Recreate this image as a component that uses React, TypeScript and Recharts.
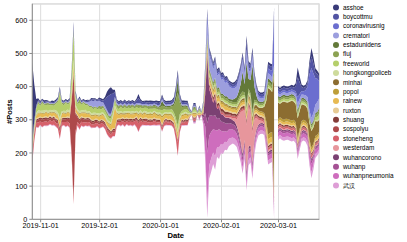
import React from 'react';
import { AreaChart, Area, XAxis, YAxis, CartesianGrid } from 'recharts';

const FONT = '"Liberation Sans", Arial, Helvetica, sans-serif';

// one row per day, first day 2019-10-28, last 2020-03-22 (2020-02-29 missing)
const START = Date.UTC(2019, 9, 28);
const DAY = 86400000;
const TICK_SHIFT = 6 * 3600000; // axis ticks sit at local midnight

const X_TICKS = ['2019-11-01', '2019-12-01', '2020-01-01', '2020-02-01', '2020-03-01'];
const Y_TICKS = [0, 100, 200, 300, 400, 500, 600];
const Y_MAX = 650;

const NAMES = ['asshoe', 'boycottmu', 'coronavirusnig', 'crematori', 'estadunidens', 'fluj', 'freeworld', 'hongkongpoliceb', 'minhai', 'popol', 'rainew', 'ruxton', 'shuang', 'sospolyu', 'stoneheng', 'westerdam', 'wuhancorono', 'wuhanp', 'wuhanpneumonia', '武汉'];
const COLORS = ['#393b79', '#5254a3', '#6b6ecf', '#9c9ede', '#637939', '#8ca252', '#b5cf6b', '#cedb9c', '#8c6d31', '#bd9e39', '#e7ba52', '#e7cb94', '#843c39', '#ad494a', '#d6616b', '#e7969c', '#7b4173', '#a55194', '#ce6dbd', '#de9ed6'];

const asshoe = [
  230, 110, 20, 6, 4, 3, 5, 4, 2, 3,
  4, 3, 5, 4, 5, 3, 2, 4, 3, 5,
  6, 10, 5, 3, 4, 2, 3, 4, 3, 2,
  3, 4, 3, 2, 4, 5, 4, 8, 15, 20,
  20, 12, 6, 4, 3, 5, 4, 3, 5, 4,
  3, 5, 4, 5, 12, 6, 4, 3, 5, 6,
  5, 4, 3, 5, 6, 5, 6, 4, 5, 6,
  5, 4, 6, 8, 10, 6, 5, 4, 5, 6,
  3, 1, 4, 4, 1, 3, 1, 4, 6, 8,
  6, 6, 6, 6, 6, 6, 6, 6, 5, 5,
  5, 5, 5, 6, 6, 6, 8, 8, 6, 15,
  8, 6, 10, 8, 6, 5, 5, 5, 5, 8,
  8, 8, 8, 8, null, 6, 6, 6, 6, 6,
  6, 6, 6, 6, 10, 30, 18, 8, 7, 7,
  8, 15, 25, 20, 12, 10, 10,
];
const boycottmu = [
  10, 8, 4, 3, 4, 2, 3, 4, 3, 2,
  3, 4, 2, 3, 4, 3, 4, 2, 3, 3,
  5, 8, 4, 3, 2, 4, 3, 2, 4, 3,
  4, 5, 3, 4, 5, 6, 5, 20, 40, 55,
  60, 40, 15, 6, 7, 5, 6, 8, 5, 6,
  7, 5, 6, 8, 15, 8, 6, 7, 5, 6,
  6, 7, 5, 6, 8, 6, 8, 6, 7, 5,
  6, 7, 8, 10, 12, 8, 6, 7, 5, 6,
  3, 1, 5, 5, 1, 3, 1, 4, 8, 10,
  8, 8, 8, 8, 8, 8, 8, 8, 8, 8,
  8, 8, 8, 8, 10, 10, 10, 12, 10, 25,
  12, 10, 12, 10, 8, 8, 8, 8, 8, 12,
  12, 12, 12, 12, null, 8, 8, 8, 8, 8,
  8, 8, 8, 8, 15, 60, 35, 12, 10, 10,
  12, 25, 35, 30, 18, 14, 12,
];
const coronavirusnig = [
  0, 0, 0, 0, 0, 0, 0, 0, 0, 0,
  0, 0, 0, 0, 0, 0, 0, 0, 0, 0,
  0, 0, 0, 0, 0, 0, 0, 0, 0, 0,
  0, 0, 0, 0, 0, 0, 0, 0, 0, 0,
  0, 0, 0, 0, 0, 0, 0, 0, 0, 0,
  0, 0, 0, 0, 0, 0, 0, 0, 0, 0,
  0, 0, 0, 0, 0, 0, 0, 0, 0, 0,
  0, 0, 0, 0, 0, 0, 0, 0, 0, 0,
  0, 0, 0, 0, 0, 0, 0, 1, 5, 25,
  10, 8, 8, 8, 6, 6, 6, 6, 6, 6,
  5, 5, 5, 5, 5, 6, 6, 6, 6, 10,
  8, 8, 8, 6, 5, 5, 5, 5, 5, 10,
  15, 15, 20, 155, null, 8, 6, 6, 6, 6,
  6, 6, 6, 6, 8, 20, 15, 10, 10, 15,
  30, 110, 150, 120, 80, 70, 50,
];
const crematori = [
  0, 0, 1, 1, 2, 2, 2, 2, 2, 2,
  2, 2, 2, 2, 3, 2, 2, 2, 2, 2,
  3, 4, 2, 2, 2, 2, 2, 3, 5, 12,
  16, 18, 18, 18, 16, 14, 10, 8, 6, 6,
  6, 5, 5, 5, 4, 4, 4, 4, 4, 4,
  4, 4, 4, 4, 5, 4, 4, 4, 4, 4,
  4, 4, 4, 4, 4, 4, 5, 4, 4, 4,
  4, 4, 4, 5, 6, 4, 4, 4, 4, 4,
  2, 1, 3, 3, 1, 2, 1, 4, 15, 35,
  40, 40, 38, 42, 38, 40, 42, 45, 40, 42,
  38, 35, 32, 32, 32, 35, 35, 32, 28, 30,
  25, 25, 22, 20, 15, 12, 10, 10, 10, 15,
  15, 15, 15, 5, null, 8, 8, 8, 8, 8,
  8, 8, 8, 8, 10, 18, 15, 10, 10, 12,
  15, 18, 20, 22, 25, 30, 30,
];
const estadunidens = [
  0, 0, 1, 1, 1, 1, 1, 1, 1, 1,
  1, 1, 1, 1, 1, 1, 1, 1, 1, 1,
  2, 3, 1, 1, 1, 1, 1, 1, 1, 1,
  1, 1, 1, 1, 2, 2, 2, 2, 2, 2,
  2, 2, 2, 2, 2, 2, 2, 2, 2, 2,
  2, 2, 2, 2, 3, 2, 2, 2, 2, 2,
  3, 3, 3, 3, 3, 4, 15, 6, 4, 4,
  4, 4, 8, 20, 40, 10, 5, 4, 4, 4,
  2, 1, 3, 3, 1, 2, 1, 2, 4, 5,
  5, 5, 5, 5, 5, 5, 5, 5, 5, 6,
  6, 6, 8, 10, 15, 20, 30, 60, 25, 130,
  30, 40, 140, 40, 15, 6, 6, 5, 5, 10,
  10, 10, 10, 10, null, 5, 5, 5, 5, 5,
  5, 5, 5, 5, 5, 8, 6, 5, 5, 5,
  5, 5, 5, 5, 5, 5, 5,
];
const fluj = [
  4, 4, 3, 5, 4, 6, 3, 4, 5, 3,
  4, 5, 3, 5, 6, 4, 5, 3, 4, 5,
  6, 8, 5, 4, 10, 5, 3, 5, 4, 3,
  4, 5, 3, 4, 6, 7, 5, 6, 7, 5,
  6, 7, 5, 6, 8, 5, 6, 7, 5, 6,
  7, 5, 6, 6, 8, 6, 7, 5, 6, 7,
  7, 6, 8, 7, 6, 8, 14, 9, 7, 8,
  8, 9, 20, 50, 100, 35, 12, 9, 7, 8,
  3, 1, 6, 6, 1, 4, 1, 4, 6, 8,
  8, 8, 8, 8, 8, 8, 8, 8, 8, 8,
  7, 7, 7, 7, 8, 8, 10, 12, 8, 10,
  8, 8, 10, 8, 6, 5, 5, 5, 5, 10,
  10, 10, 10, 5, null, 6, 6, 6, 6, 6,
  6, 6, 6, 6, 6, 8, 6, 6, 6, 6,
  6, 6, 6, 6, 8, 10, 12,
];
const freeworld = [
  10, 8, 14, 20, 15, 22, 17, 14, 19, 13,
  16, 12, 20, 30, 75, 22, 16, 24, 15, 22,
  40, 80, 25, 14, 25, 17, 22, 14, 19, 12,
  18, 11, 16, 12, 15, 10, 14, 11, 13, 10,
  12, 9, 14, 11, 8, 13, 10, 12, 8, 11,
  10, 13, 9, 11, 12, 8, 12, 9, 11, 10,
  9, 11, 7, 10, 9, 8, 12, 10, 7, 9,
  8, 10, 10, 12, 15, 10, 7, 9, 8, 9,
  3, 1, 6, 6, 1, 4, 1, 4, 6, 6,
  6, 6, 6, 6, 6, 6, 6, 6, 6, 6,
  5, 5, 5, 5, 6, 6, 6, 6, 6, 6,
  6, 6, 6, 6, 5, 5, 5, 5, 5, 6,
  6, 6, 6, 5, null, 6, 6, 6, 6, 6,
  6, 6, 6, 6, 6, 6, 6, 6, 6, 6,
  6, 6, 6, 6, 8, 10, 14,
];
const hongkongpoliceb = [
  4, 4, 5, 7, 5, 6, 8, 5, 6, 7,
  5, 6, 8, 7, 8, 6, 5, 7, 6, 6,
  10, 15, 8, 6, 7, 5, 6, 7, 5, 6,
  5, 6, 4, 5, 6, 5, 4, 6, 5, 5,
  5, 6, 4, 5, 6, 5, 4, 6, 5, 4,
  5, 6, 4, 5, 5, 6, 4, 5, 6, 5,
  4, 5, 3, 4, 5, 4, 5, 4, 3, 4,
  4, 5, 4, 4, 5, 4, 3, 4, 5, 4,
  2, 1, 3, 3, 1, 2, 1, 2, 3, 3,
  3, 3, 3, 3, 3, 3, 3, 3, 3, 3,
  3, 3, 3, 3, 3, 3, 3, 3, 3, 3,
  3, 3, 3, 3, 3, 3, 3, 3, 3, 3,
  3, 3, 3, 2, null, 3, 3, 3, 3, 3,
  3, 3, 3, 3, 3, 3, 3, 3, 3, 3,
  3, 3, 3, 3, 3, 4, 5,
];
const minhai = [
  0, 0, 1, 1, 1, 1, 1, 1, 1, 1,
  1, 1, 1, 1, 1, 1, 1, 1, 1, 1,
  1, 1, 1, 1, 1, 1, 1, 1, 1, 1,
  1, 1, 1, 1, 1, 1, 1, 1, 1, 1,
  1, 1, 1, 1, 1, 1, 1, 1, 1, 1,
  1, 1, 1, 1, 1, 1, 1, 1, 1, 1,
  1, 1, 1, 1, 1, 1, 1, 1, 1, 1,
  1, 1, 1, 1, 1, 1, 1, 1, 1, 1,
  1, 0, 1, 1, 0, 1, 0, 1, 2, 3,
  3, 3, 3, 3, 3, 3, 3, 3, 3, 3,
  3, 3, 3, 3, 3, 4, 4, 5, 5, 5,
  6, 8, 10, 10, 10, 10, 10, 12, 20, 60,
  140, 130, 120, 345, null, 50, 40, 50, 55, 50,
  50, 55, 60, 55, 55, 60, 55, 50, 45, 45,
  45, 50, 50, 50, 45, 40, 35,
];
const popol = [
  1, 1, 2, 2, 2, 2, 2, 2, 2, 2,
  2, 2, 2, 2, 3, 2, 2, 2, 2, 2,
  3, 4, 2, 2, 2, 2, 2, 2, 2, 2,
  3, 3, 3, 3, 3, 3, 3, 3, 3, 3,
  3, 3, 3, 3, 3, 3, 3, 3, 3, 3,
  3, 3, 3, 3, 3, 3, 3, 3, 3, 3,
  4, 4, 4, 4, 4, 4, 5, 4, 4, 4,
  4, 4, 4, 5, 6, 4, 4, 4, 4, 4,
  2, 1, 3, 3, 1, 2, 1, 3, 8, 10,
  6, 6, 6, 6, 6, 6, 6, 6, 6, 6,
  5, 5, 5, 5, 6, 6, 6, 6, 6, 8,
  6, 6, 8, 6, 5, 5, 5, 5, 5, 12,
  15, 15, 15, 15, null, 8, 8, 8, 8, 8,
  8, 8, 8, 8, 8, 8, 8, 8, 8, 8,
  8, 8, 8, 8, 8, 8, 8,
];
const rainew = [
  6, 6, 8, 12, 9, 11, 8, 12, 10, 7,
  11, 8, 12, 10, 12, 9, 11, 8, 12, 10,
  12, 15, 10, 8, 12, 9, 11, 13, 8, 10,
  9, 12, 10, 8, 11, 10, 13, 9, 10, 12,
  15, 30, 60, 15, 9, 12, 8, 11, 10, 13,
  9, 11, 10, 8, 12, 10, 9, 12, 8, 10,
  11, 9, 12, 10, 8, 10, 20, 12, 9, 11,
  10, 12, 9, 12, 12, 10, 8, 11, 10, 9,
  3, 1, 8, 8, 1, 5, 1, 5, 10, 12,
  10, 10, 10, 10, 10, 10, 10, 10, 10, 10,
  8, 8, 8, 8, 8, 8, 8, 8, 8, 10,
  8, 8, 10, 8, 7, 7, 7, 7, 7, 15,
  15, 15, 15, 8, null, 7, 7, 7, 7, 7,
  7, 7, 7, 7, 7, 7, 7, 7, 7, 7,
  7, 7, 7, 7, 7, 7, 7,
];
const ruxton = [
  2, 2, 3, 3, 3, 3, 3, 3, 3, 3,
  3, 3, 3, 3, 4, 3, 3, 3, 3, 3,
  4, 5, 3, 3, 3, 3, 3, 3, 3, 3,
  3, 3, 3, 3, 3, 3, 3, 3, 3, 3,
  3, 3, 3, 3, 3, 3, 3, 3, 3, 3,
  3, 3, 3, 3, 3, 3, 3, 3, 3, 3,
  3, 3, 3, 3, 3, 3, 3, 3, 3, 3,
  3, 3, 3, 3, 3, 3, 3, 3, 3, 3,
  1, 0, 2, 2, 0, 1, 0, 2, 4, 5,
  5, 5, 5, 5, 5, 5, 5, 5, 5, 5,
  4, 4, 4, 4, 4, 4, 4, 4, 4, 4,
  4, 4, 4, 4, 4, 4, 4, 4, 4, 5,
  5, 5, 5, 4, null, 3, 3, 3, 3, 3,
  3, 3, 3, 3, 3, 3, 3, 3, 3, 3,
  3, 3, 3, 3, 3, 3, 3,
];
const shuang = [
  3, 3, 4, 4, 4, 4, 4, 4, 4, 4,
  4, 4, 4, 4, 5, 4, 4, 4, 4, 4,
  6, 8, 5, 4, 4, 4, 4, 4, 4, 4,
  4, 4, 4, 4, 4, 4, 4, 4, 4, 4,
  4, 4, 4, 4, 4, 4, 4, 4, 4, 4,
  4, 4, 4, 4, 4, 4, 4, 4, 4, 4,
  4, 4, 4, 4, 4, 4, 4, 4, 4, 4,
  4, 4, 4, 4, 4, 4, 4, 4, 4, 4,
  1, 0, 3, 3, 0, 2, 0, 3, 5, 6,
  8, 8, 8, 8, 8, 8, 8, 8, 8, 8,
  6, 6, 6, 6, 6, 6, 6, 6, 6, 6,
  6, 6, 6, 6, 5, 5, 5, 5, 5, 5,
  5, 5, 5, 4, null, 4, 4, 4, 4, 4,
  4, 4, 4, 4, 4, 4, 4, 4, 4, 4,
  4, 4, 4, 4, 4, 4, 4,
];
const sospolyu = [
  4, 4, 6, 8, 8, 8, 8, 8, 8, 7,
  7, 7, 8, 8, 10, 8, 8, 8, 9, 12,
  150, 370, 50, 15, 12, 10, 9, 8, 8, 8,
  7, 7, 7, 6, 6, 6, 6, 6, 6, 6,
  5, 5, 5, 5, 5, 5, 5, 5, 5, 5,
  5, 5, 5, 5, 5, 5, 5, 5, 5, 5,
  4, 4, 4, 4, 4, 3, 3, 3, 3, 3,
  3, 3, 3, 3, 4, 3, 3, 3, 3, 3,
  1, 0, 2, 2, 0, 1, 0, 1, 3, 4,
  3, 3, 3, 3, 3, 3, 3, 3, 3, 3,
  3, 3, 3, 3, 3, 3, 3, 3, 3, 3,
  3, 3, 3, 3, 2, 2, 2, 2, 2, 2,
  2, 2, 2, 3, null, 2, 2, 2, 2, 2,
  2, 2, 2, 2, 2, 2, 2, 2, 2, 2,
  2, 2, 2, 2, 2, 2, 2,
];
const stoneheng = [
  25, 20, 12, 15, 10, 14, 11, 13, 9, 12,
  11, 14, 10, 14, 20, 12, 9, 14, 11, 13,
  15, 18, 12, 10, 14, 11, 13, 9, 12, 10,
  11, 8, 12, 9, 10, 12, 8, 10, 12, 13,
  12, 12, 12, 10, 7, 11, 9, 12, 8, 10,
  9, 11, 8, 20, 25, 18, 8, 10, 11, 7,
  10, 8, 11, 9, 7, 8, 10, 9, 11, 7,
  9, 7, 10, 20, 40, 15, 9, 7, 10, 8,
  2, 1, 6, 6, 1, 4, 1, 4, 6, 5,
  5, 5, 5, 5, 5, 5, 5, 5, 5, 5,
  5, 5, 5, 5, 5, 5, 5, 5, 5, 5,
  5, 5, 5, 5, 5, 5, 5, 5, 5, 5,
  6, 6, 6, 8, null, 5, 5, 5, 5, 5,
  5, 5, 5, 5, 5, 5, 5, 5, 5, 5,
  5, 6, 8, 6, 5, 5, 5,
];
const westerdam = [
  0, 0, 0, 0, 0, 0, 0, 0, 0, 0,
  0, 0, 0, 0, 0, 0, 0, 0, 0, 0,
  0, 0, 0, 0, 0, 0, 0, 0, 0, 0,
  0, 0, 0, 0, 0, 0, 0, 0, 0, 0,
  0, 0, 0, 0, 0, 0, 0, 0, 0, 0,
  0, 0, 0, 0, 0, 0, 0, 0, 0, 0,
  0, 0, 0, 0, 0, 0, 0, 0, 0, 0,
  0, 0, 0, 0, 0, 0, 0, 0, 0, 0,
  0, 0, 0, 0, 0, 0, 0, 0, 0, 0,
  0, 0, 0, 0, 0, 0, 0, 1, 1, 2,
  3, 4, 6, 10, 20, 50, 90, 130, 90, 140,
  120, 100, 90, 60, 35, 15, 8, 6, 5, 5,
  5, 5, 5, 4, null, 3, 3, 3, 3, 3,
  2, 2, 2, 2, 2, 2, 2, 2, 2, 2,
  2, 2, 2, 2, 2, 2, 2,
];
const wuhancorono = [
  0, 0, 0, 0, 0, 0, 0, 0, 0, 0,
  0, 0, 0, 0, 0, 0, 0, 0, 0, 0,
  0, 0, 0, 0, 0, 0, 0, 0, 0, 0,
  0, 0, 0, 0, 0, 0, 0, 0, 0, 0,
  0, 0, 0, 0, 0, 0, 0, 0, 0, 0,
  0, 0, 0, 0, 0, 0, 0, 0, 0, 0,
  0, 0, 0, 0, 0, 0, 0, 0, 0, 0,
  0, 0, 0, 0, 0, 0, 0, 0, 0, 0,
  0, 0, 1, 1, 0, 2, 0, 8, 60, 200,
  80, 60, 40, 50, 30, 30, 22, 22, 18, 18,
  15, 14, 12, 12, 10, 10, 10, 10, 8, 8,
  8, 8, 6, 6, 5, 4, 4, 4, 4, 5,
  5, 5, 5, 6, null, 4, 4, 4, 4, 4,
  4, 4, 4, 4, 4, 4, 4, 4, 4, 4,
  4, 5, 6, 5, 4, 4, 4,
];
const wuhanp = [
  0, 0, 0, 0, 0, 0, 0, 0, 0, 0,
  0, 0, 0, 0, 0, 0, 0, 0, 0, 0,
  0, 0, 0, 0, 0, 0, 0, 0, 0, 0,
  0, 0, 0, 0, 0, 0, 0, 0, 0, 0,
  0, 0, 0, 0, 0, 0, 0, 0, 0, 0,
  0, 0, 0, 0, 0, 0, 0, 0, 0, 0,
  0, 0, 0, 0, 0, 0, 0, 0, 0, 0,
  0, 0, 0, 0, 0, 0, 0, 0, 0, 0,
  0, 0, 1, 1, 0, 2, 0, 8, 40, 90,
  60, 50, 40, 45, 35, 35, 28, 28, 24, 24,
  20, 18, 16, 16, 14, 14, 14, 14, 12, 12,
  12, 10, 10, 10, 8, 6, 6, 6, 6, 7,
  7, 7, 7, 8, null, 6, 6, 6, 6, 6,
  6, 6, 6, 6, 6, 6, 6, 6, 6, 6,
  7, 8, 10, 8, 6, 6, 6,
];
const wuhanpneumonia = [
  0, 0, 0, 0, 0, 0, 0, 0, 0, 0,
  0, 0, 0, 0, 0, 0, 0, 0, 0, 0,
  0, 0, 0, 0, 0, 0, 0, 0, 0, 0,
  0, 0, 0, 0, 0, 0, 0, 0, 0, 0,
  0, 0, 0, 0, 0, 0, 0, 0, 0, 0,
  0, 0, 0, 0, 0, 0, 0, 0, 0, 0,
  0, 0, 0, 0, 0, 0, 0, 0, 0, 0,
  0, 0, 0, 0, 0, 0, 0, 0, 0, 0,
  0, 0, 2, 2, 0, 3, 0, 10, 80, 150,
  90, 80, 70, 80, 50, 55, 40, 40, 32, 32,
  28, 26, 24, 24, 22, 22, 20, 20, 20, 20,
  20, 18, 18, 16, 14, 12, 12, 12, 12, 14,
  14, 14, 14, 18, null, 12, 12, 12, 12, 12,
  12, 12, 12, 12, 12, 12, 12, 12, 12, 12,
  14, 18, 25, 18, 14, 12, 12,
];
const wuhan = [
  4, 4, 2, 2, 2, 2, 2, 2, 2, 2,
  2, 2, 2, 2, 2, 2, 2, 2, 2, 2,
  2, 2, 2, 2, 2, 2, 2, 2, 2, 2,
  2, 2, 2, 2, 2, 2, 2, 2, 2, 2,
  2, 2, 2, 2, 2, 2, 2, 2, 2, 2,
  2, 2, 2, 2, 2, 2, 2, 2, 2, 2,
  2, 2, 2, 2, 2, 2, 2, 2, 2, 2,
  2, 2, 2, 2, 2, 2, 2, 2, 2, 2,
  1, 0, 3, 3, 0, 3, 0, 5, 30, 45,
  40, 40, 35, 40, 30, 35, 28, 28, 24, 24,
  22, 20, 18, 18, 18, 18, 16, 16, 16, 16,
  16, 16, 14, 14, 12, 10, 10, 10, 10, 12,
  12, 12, 12, 15, null, 10, 10, 10, 10, 10,
  10, 10, 10, 10, 10, 10, 10, 10, 10, 10,
  12, 14, 18, 14, 12, 10, 10,
];

const VALUES = [asshoe, boycottmu, coronavirusnig, crematori, estadunidens, fluj, freeworld, hongkongpoliceb, minhai, popol, rainew, ruxton, shuang, sospolyu, stoneheng, westerdam, wuhancorono, wuhanp, wuhanpneumonia, wuhan];

// vega's "center" stack sits every column on half the largest day total
const totals = asshoe.map((_, i) => VALUES.reduce((s, v) => s + (v[i] ?? 0), 0));
const MID = Math.max(...totals) / 2;

const data = asshoe.map((_, i) => {
  const row: Record<string, number | null> = { t: START + i * DAY };
  NAMES.forEach((n, k) => { row[n] = VALUES[k][i]; });
  return row;
});

const W = 407;
const H = 242;
const PLOT = { left: 32.3, right: 319.3, top: 3.7, bottom: 219.3 };

const fmtDate = (v: number) => new Date(v - TICK_SHIFT).toISOString().slice(0, 10);

export default function App() {
  const tick = { fontSize: 7.2, fill: '#000', fontFamily: FONT };
  return (
    <div style={{ position: 'absolute', left: 0, top: 0, width: W, height: H, background: '#fff' }}>
      <svg width={W} height={H} style={{ position: 'absolute', left: 0, top: 0 }}>
        <line x1={PLOT.left} x2={PLOT.right} y1={PLOT.top + 0.5} y2={PLOT.top + 0.5} stroke="#ddd" />
        <line x1={PLOT.right - 0.5} x2={PLOT.right - 0.5} y1={PLOT.top} y2={PLOT.bottom} stroke="#ddd" />
        <text x={(PLOT.left + PLOT.right) / 2} y={237.6} textAnchor="middle" fontFamily={FONT} fontWeight="bold" fontSize={7.7} fill="#000">Date</text>
        <text transform="translate(11.8,111.6) rotate(-90)" textAnchor="middle" fontFamily={FONT} fontWeight="bold" fontSize={7.5} fill="#000">#Posts</text>
        {NAMES.map((n, k) => (
          <g key={n}>
            <circle cx={336} cy={7.4 + k * 9.37} r={3} fill={COLORS[k]} />
            <text x={343} y={9.6 + k * 9.37} fontFamily={FONT} fontSize={6.4} fill="#000">{n}</text>
          </g>
        ))}
      </svg>
      <div style={{ position: 'absolute', left: 0, top: 0 }}>
        <AreaChart
          width={W}
          height={H}
          data={data}
          stackOffset="silhouette"
          margin={{ top: PLOT.top, right: W - PLOT.right, bottom: 0, left: 0 }}
        >
          <CartesianGrid stroke="#ddd" />
          <XAxis
            dataKey="t"
            type="number"
            domain={[START, START + (asshoe.length - 1) * DAY]}
            ticks={X_TICKS.map((s) => Date.parse(s) + TICK_SHIFT)}
            tickFormatter={fmtDate}
            interval={0}
            height={H - PLOT.bottom}
            tick={tick}
            tickSize={3}
            tickMargin={1}
            tickLine={{ stroke: '#888' }}
            axisLine={{ stroke: '#888' }}
            allowDataOverflow
          />
          <YAxis
            type="number"
            width={PLOT.left}
            domain={[-MID, Y_MAX - MID]}
            ticks={Y_TICKS.map((t) => t - MID)}
            tickFormatter={(v: number) => String(Math.round(v + MID))}
            interval={0}
            tick={tick}
            tickSize={3}
            tickMargin={2}
            tickLine={{ stroke: '#888' }}
            axisLine={{ stroke: '#888' }}
            allowDataOverflow
          />
          {NAMES.map((_, j) => {
            const k = NAMES.length - 1 - j;
            return (
              <Area
                key={NAMES[k]}
                dataKey={NAMES[k]}
                stackId="posts"
                type="linear"
                stroke="none"
                fill={COLORS[k]}
                fillOpacity={1}
                dot={false}
                activeDot={false}
                isAnimationActive={false}
              />
            );
          })}
        </AreaChart>
      </div>
    </div>
  );
}
